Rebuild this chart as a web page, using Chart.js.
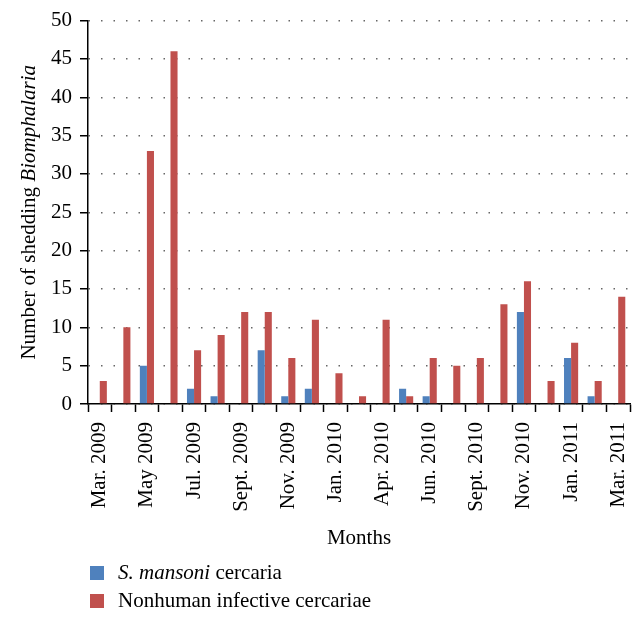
<!DOCTYPE html>
<html>
<head>
<meta charset="utf-8">
<script src="https://cdn.jsdelivr.net/npm/chart.js@4.4.0/dist/chart.umd.min.js"></script>
<style>
  html, body { margin: 0; padding: 0; background: #fff; }
  canvas { display: block; }
</style>
</head>
<body>
<canvas id="myChart" width="644" height="621"></canvas>
<script>
"use strict";

// one bar group per sampling month; only every other one is labelled
var months = [
  "Mar. 2009", "Apr. 2009", "May 2009", "Jun. 2009", "Jul. 2009", "Aug. 2009",
  "Sept. 2009", "Oct. 2009", "Nov. 2009", "Dec. 2009", "Jan. 2010", "Mar. 2010",
  "Apr. 2010", "May 2010", "Jun. 2010", "Aug. 2010", "Sept. 2010", "Oct. 2010",
  "Nov. 2010", "Dec. 2010", "Jan. 2011", "Feb. 2011", "Mar. 2011"
];
var mansoni = [0, 0, 5, 0, 2, 1, 0, 7, 1, 2, 0, 0, 0, 2, 1, 0, 0, 0, 12, 0, 6, 1, 0];
var nonhuman = [3, 10, 33, 46, 7, 9, 12, 12, 6, 11, 4, 1, 11, 1, 6, 5, 6, 13, 16, 3, 8, 3, 14];
var yMin = 0;
var yMax = 50;
var yStep = 5;

// text pieces: [text, italic?]
var yTitle = [["Number of shedding ", false], ["Biomphalaria", true]];
var legendLabels = [
  [["S. mansoni", true], [" cercaria", false]],
  [["Nonhuman infective cercariae", false]]
];

var serif = "'Liberation Serif', 'Times New Roman', serif";
var blue = "#4F81BD";
var red = "#C0504D";

function drawPieces(ctx, pieces, x, y, size) {
  for (var i = 0; i < pieces.length; i++) {
    ctx.font = (pieces[i][1] ? "italic " : "") + size + "px " + serif;
    ctx.fillText(pieces[i][0], x, y);
    x += ctx.measureText(pieces[i][0]).width;
  }
}

function piecesWidth(ctx, pieces, size) {
  var w = 0;
  for (var i = 0; i < pieces.length; i++) {
    ctx.font = (pieces[i][1] ? "italic " : "") + size + "px " + serif;
    w += ctx.measureText(pieces[i][0]).width;
  }
  return w;
}

var textPlugin = {
  id: "textPlugin",
  afterDraw: function (chart) {
    var ctx = chart.ctx;
    var area = chart.chartArea;
    ctx.save();
    ctx.fillStyle = "#000";
    ctx.textBaseline = "middle";

    // y axis title, mixed roman / italic
    var w = piecesWidth(ctx, yTitle, 21);
    ctx.save();
    ctx.translate(29, (area.top + area.bottom) / 2);
    ctx.rotate(-Math.PI / 2);
    drawPieces(ctx, yTitle, -w / 2, 0, 21);
    ctx.restore();

    // legend under the axis title
    var ds = chart.data.datasets;
    for (var i = 0; i < ds.length; i++) {
      var cy = 573 + i * 28;
      ctx.fillStyle = ds[i].backgroundColor;
      ctx.fillRect(90, cy - 7, 14, 14);
      ctx.fillStyle = "#000";
      drawPieces(ctx, legendLabels[i], 118, cy, 21);
    }
    ctx.restore();
  }
};

function start() {
  var canvas = document.getElementById("myChart");
  new Chart(canvas, {
    type: "bar",
    data: {
      labels: months,
      datasets: [
        {
          label: "S. mansoni cercaria",
          data: mansoni,
          backgroundColor: blue,
          categoryPercentage: 0.6,
          barPercentage: 1.0
        },
        {
          label: "Nonhuman infective cercariae",
          data: nonhuman,
          backgroundColor: red,
          categoryPercentage: 0.6,
          barPercentage: 1.0
        }
      ]
    },
    options: {
      responsive: false,
      animation: false,
      layout: { padding: { left: 28, right: 14, top: 20, bottom: 67 } },
      plugins: {
        legend: { display: false },
        tooltip: { enabled: false }
      },
      scales: {
        x: {
          afterFit: function (scale) {
            scale.height = 150;
            scale.paddingRight = 0;
          },
          grid: {
            drawOnChartArea: false,
            tickLength: 8,
            tickColor: "#000",
            tickWidth: 1.5
          },
          border: { color: "#000", width: 1.5 },
          ticks: {
            autoSkip: false,
            maxRotation: 90,
            minRotation: 90,
            padding: 10,
            color: "#000",
            font: { family: serif, size: 21 },
            callback: function (value, index) {
              return index % 2 === 0 ? this.getLabelForValue(value) : "";
            }
          },
          title: {
            display: true,
            text: "Months",
            color: "#000",
            font: { family: serif, size: 21 },
            padding: { top: 0, bottom: 3 }
          }
        },
        y: {
          min: yMin,
          max: yMax,
          afterFit: function (scale) { scale.width = 60; },
          grid: {
            color: "#666",
            lineWidth: 1.5,
            tickLength: 8,
            tickColor: "#000",
            tickWidth: 1.5
          },
          border: { color: "#000", width: 1.5, dash: [1.5, 11] },
          ticks: {
            stepSize: yStep,
            padding: 8,
            color: "#000",
            font: { family: serif, size: 21 }
          }
        }
      }
    },
    plugins: [textPlugin]
  });
}

document.addEventListener("DOMContentLoaded", start);
</script>
</body>
</html>
